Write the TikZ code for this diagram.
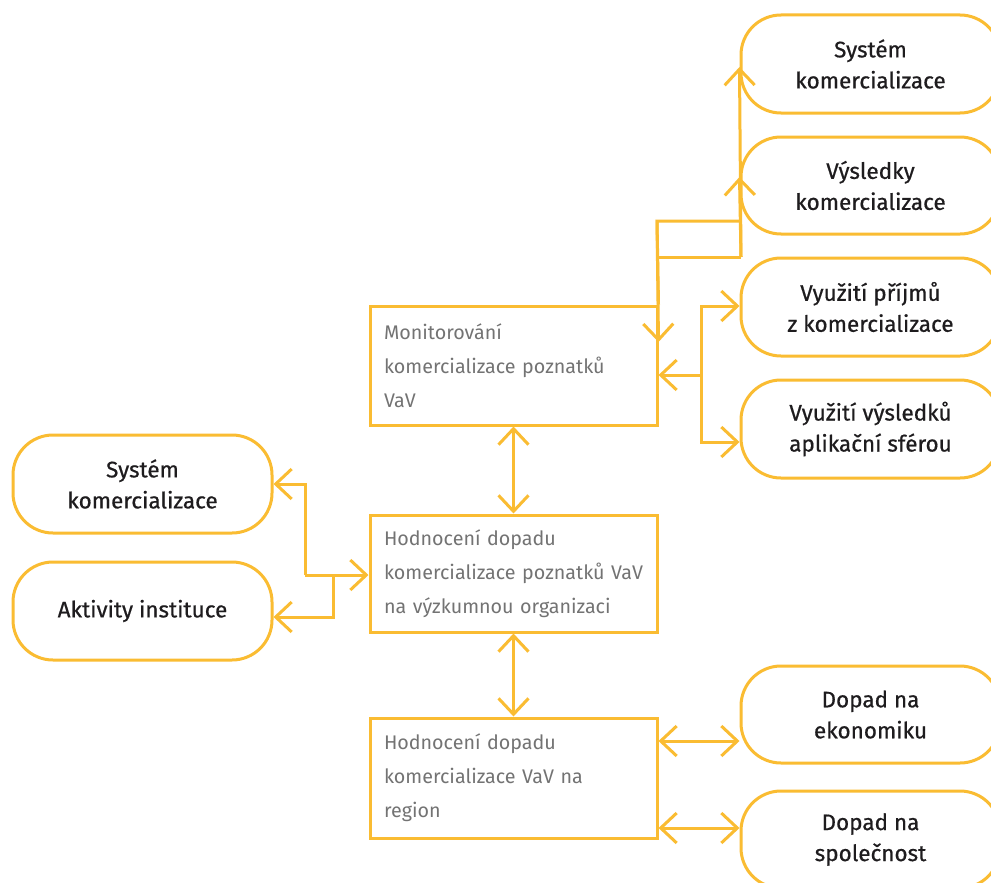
\documentclass[tikz,border=0pt]{standalone}
\usepackage{fontspec}
\setmainfont{Fira Sans}
\newfontfamily\medfont[FakeBold=0.6]{Fira Sans}
\usetikzlibrary{arrows.meta}
\definecolor{gold}{RGB}{250,188,50}
\definecolor{darktxt}{RGB}{30,28,30}
\definecolor{graytxt}{RGB}{115,115,115}
\begin{document}
\begin{tikzpicture}[x=1pt,y=-1pt,
 rbox/.style={draw=gold,line width=3pt,rounded corners=40pt,minimum width=259pt,minimum height=97pt,align=center,font=\medfont\fontsize{22.5}{31}\selectfont,text=darktxt,inner sep=0pt},
 rect/.style={draw=gold,line width=3pt,minimum width=287pt,align=left,font=\fontsize{19.7}{34}\selectfont,text=graytxt,inner xsep=14pt,inner ysep=0pt,text width=259pt},
 con/.style={draw=gold,line width=3pt},
 tip/.style={-{Straight Barb[length=16pt,width=30pt]}},
 dbl/.style={{Straight Barb[length=16pt,width=30pt]}-{Straight Barb[length=16pt,width=30pt]}}
]
\useasboundingbox (0,0) rectangle (991,883);
\fill[white] (0,0) rectangle (991,883);

% rectangles
\node[rect,minimum height=119pt] (mon) at (513.5,365.5) {Monitorování\\\mbox{komercializace poznatků}\\VaV};
\node[rect,minimum height=117pt] (mid) at (513.5,573.5) {Hodnocení dopadu\\\mbox{komercializace poznatků VaV}\\\mbox{na výzkumnou organizaci}};
\node[rect,minimum height=120pt] (bot) at (513.5,778) {Hodnocení dopadu\\\mbox{komercializace VaV na}\\region};

% right rounded boxes
\node[rbox,minimum height=98pt] (sys1) at (870.5,64) {Systém\\komercializace};
\node[rbox] (vys) at (870.5,185.5) {Výsledky\\komercializace};
\node[rbox,minimum height=98pt] (prij) at (870.5,307) {Využití příjmů\\z komercializace};
\node[rbox,minimum height=98pt] (vyu) at (870.5,429) {Využití výsledků\\aplikační sférou};
\node[rbox] (eko) at (870.5,714.5) {Dopad na\\ekonomiku};
\node[rbox] (spol) at (870.5,839.5) {Dopad na\\společnost};

% left rounded boxes
\node[rbox,minimum height=98pt] (sysL) at (142.5,484) {Systém\\komercializace};
\node[rbox,minimum height=98pt] (akt) at (142.5,611) {Aktivity instituce};

% vertical links
\draw[con,dbl] (mon.south) -- (mid.north);
\draw[con,dbl] (mid.south) -- (bot.north);

% bottom right links
\draw[con,dbl] (bot.east |- 0,741) -- (eko.west |- 0,741);
\draw[con,dbl] (bot.east |- 0,828) -- (spol.west |- 0,828);

% left links
\coordinate (j1) at (305,575);
\coordinate (j2) at (333,575);
\draw[con,tip] (j1) -- (mid.west |- j1);
\draw[con,tip] (j1) |- (sysL.east);
\draw[con,tip] (j2) |- (akt.east |- 0,617);

% top right links
\coordinate (a1) at (657,221);
\coordinate (a2) at (657,257);
\coordinate (b2) at (741,257);
\draw[con] (mon.north east) -- (a1) -- (vys.west |- a1);
\draw[con] (a2) -- (b2);
\draw[con,tip] (b2) -- (sys1.west |- 0,67);
\draw[con,tip] (b2) -- (vys.west |- 0,177);
\draw[con,tip] (a1) -- (mon.east |- 0,342);

\coordinate (j3) at (701,375);
\draw[con,tip] (j3) -- (mon.east |- j3);
\draw[con,tip] (j3) |- (prij.west |- 0,306);
\draw[con,tip] (j3) |- (vyu.west |- 0,442);
\end{tikzpicture}
\end{document}
